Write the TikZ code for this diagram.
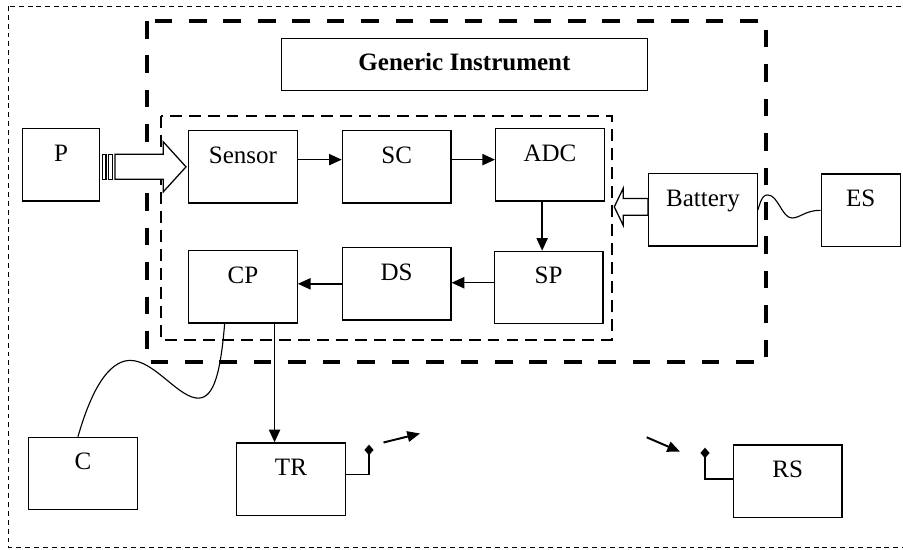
\documentclass[tikz,border=0pt]{standalone}
\usepackage{fontspec}
\setmainfont{Liberation Serif}
\usepackage{xcolor}
\usetikzlibrary{arrows.meta, calc}
\definecolor{darktext}{HTML}{000000}

\begin{document}
\begin{tikzpicture}[x=0.025cm, y=-0.025cm,
            blk/.style={draw=darktext, line width=0.9pt, anchor=north west, inner sep=0pt,
                minimum width=2.715cm, text height=0.81cm, text depth=1.0cm,
                font=\fontsize{17.8}{20}\selectfont},
            flow/.style={draw=darktext, line width=1pt, -{Triangle[length=9pt, width=8pt]}},
            radio/.style={draw=darktext, line width=1.4pt, -{Triangle[length=9pt, width=7.5pt]}},
            antline/.style={draw=darktext, line width=0.9pt, -{Diamond[length=7.5pt, width=6.5pt]}},
            hollow/.style={draw=darktext, fill=white, line width=0.9pt},
            wire/.style={draw=darktext, line width=0.8pt}]
            \useasboundingbox (0,0) rectangle (903,550);
            \clip (0,0) rectangle (903,550);
            % frames
            \draw[darktext, line width=0.7pt, dash pattern=on 3.5pt off 2.8pt] (8,6) rectangle (910,547);
            \draw[darktext, line width=2.8pt, dash pattern=on 12.5pt off 12pt] (147,21) rectangle (766,362);
            \draw[darktext, line width=1.4pt, dash pattern=on 8.5pt off 5pt] (161,116) rectangle (611.7,340);
            % blocks
            \node[blk, minimum width=9.14cm, text height=0.8cm, text depth=0.5cm,
                font=\fontsize{17.8}{20}\selectfont\bfseries] (gi) at (281,38) {Generic Instrument};
            \node[blk, minimum width=1.92cm] (p) at (22,128) {P};
            \node[blk] (sensor) at (188,130) {Sensor};
            \node[blk] (sc) at (341.7,130) {SC};
            \node[blk] (adc) at (495,128) {ADC};
            \node[blk] (battery) at (648,173) {Battery};
            \node[blk, minimum width=1.97cm] (es) at (820.7,173.5) {ES};
            \node[blk] (cp) at (188,250) {CP};
            \node[blk] (ds) at (341.7,247) {DS};
            \node[blk] (sp) at (493.7,250.7) {SP};
            \node[blk] (c) at (28,436.7) {C};
            \node[blk] (tr) at (236,442.3) {TR};
            \node[blk] (rs) at (732.7,444.3) {RS};
            % signal path
            \draw[flow] ([yshift=0.18cm]sensor.east) -- ([yshift=0.18cm]sensor.east -| sc.west);
            \draw[flow] ([yshift=0.18cm]sc.east) -- ([yshift=0.18cm]sc.east -| adc.west);
            \draw[flow] ([xshift=-0.195cm]adc.south) -- ([xshift=-0.195cm]adc.south |- sp.north);
            \draw[flow] ([yshift=0.12cm]sp.west) -- ([yshift=0.12cm]sp.west -| ds.east);
            \draw[flow] (ds.west) -- (ds.west -| cp.east);
            \draw[flow] ([xshift=0.79cm]cp.south) -- ([xshift=0.79cm]cp.south |- tr.north);
            % hollow arrows
            \begin{scope}[shift={(sensor.west)}]
                \draw[hollow] (-73,-12.5) -- (-24.7,-12.5) -- (-24.7,-25) -- (-2,0)
                    -- (-24.7,25) -- (-24.7,12.5) -- (-73,12.5) -- cycle;
                \draw[hollow] (-85.3,-12.5) rectangle (-82,12.5);
                \draw[hollow] (-79.3,-12.5) rectangle (-75.7,12.5);
            \end{scope}
            \begin{scope}[shift={(battery.west)}]
                \draw[hollow] (0,-11.3) -- (-24.7,-11.3) -- (-24.7,-21.7) -- (-33.7,-3)
                    -- (-24.7,15.7) -- (-24.7,5.3) -- (0,5.3) -- cycle;
            \end{scope}
            % cables
            \draw[wire] (battery.east) .. controls (762,196) and (764,195) .. (768,195)
                .. controls (778,195) and (782,218) .. (792,218)
                .. controls (800,218) and (806,210) .. (es.west);
            \draw[wire] ($(cp.south)+(-18.3,0)$) .. controls (220,380) and (212,400) .. (196,398)
                .. controls (175,395) and (150,355) .. (125,361)
                .. controls (105,366) and (90,395) .. ($(c.north)+(-5,0)$);
            % antennas
            \coordinate (trtip) at (369,444.7);
            \coordinate (rstip) at (705,447.7);
            \draw[antline] ($(tr.east)+(0,-5)$) -| (trtip);
            \draw[antline] ($(rs.west)+(0,-2.2)$) -| (rstip);
            \coordinate (tw1) at (383.5,442.5);
            \coordinate (tw2) at (420,433.5);
            \coordinate (rw1) at (646.7,437.3);
            \coordinate (rw2) at (680,451.7);
            \foreach \i/\j in {tw1/tw2,rw1/rw2} {
                \draw[radio] (\i) -- (\j);
            }
        \end{tikzpicture}
\end{document}
